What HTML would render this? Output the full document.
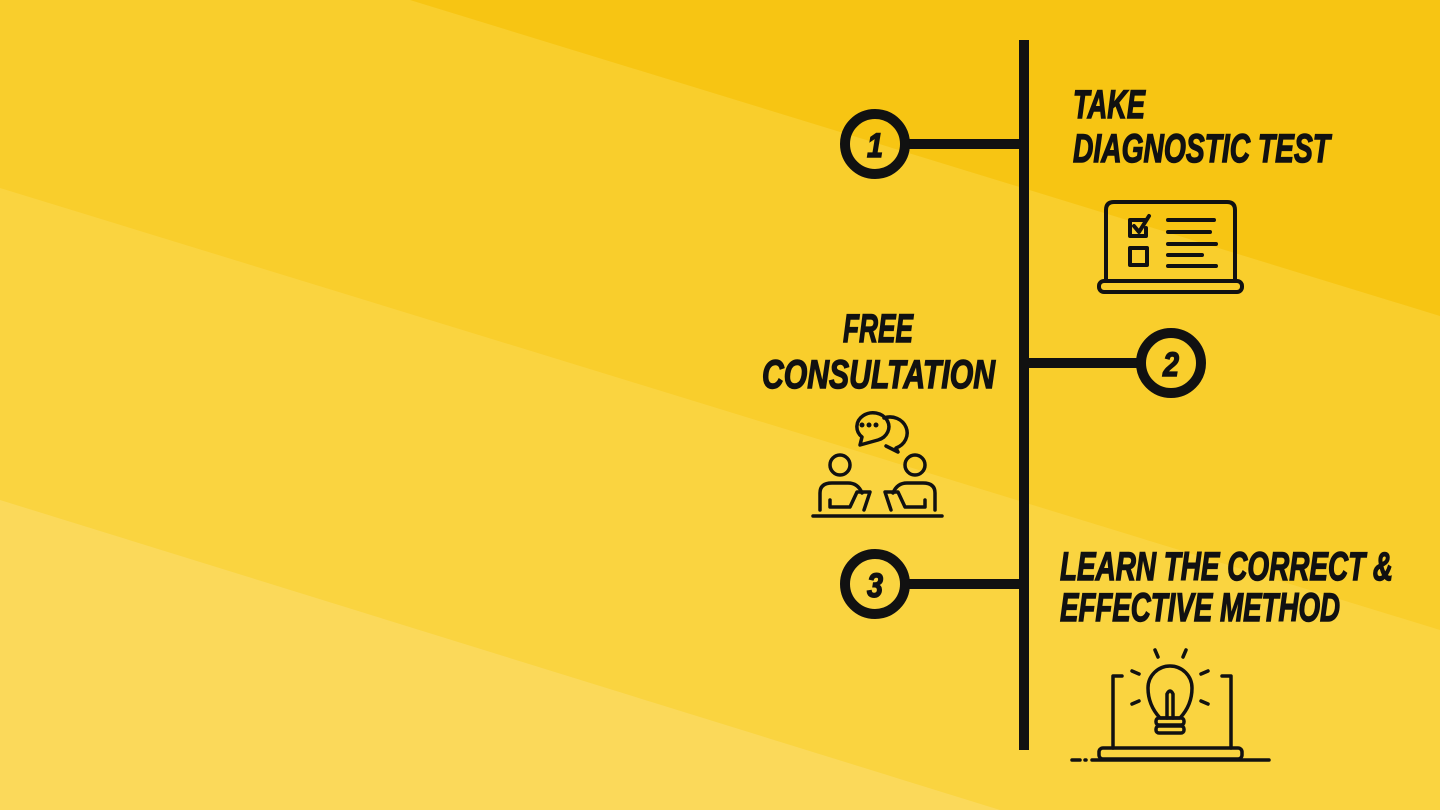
<!DOCTYPE html>
<html><head><meta charset="utf-8"><style>
html,body{margin:0;padding:0;width:1440px;height:810px;overflow:hidden}
svg{display:block}
text{font-family:"Liberation Sans",sans-serif;font-weight:bold;font-style:italic;fill:#111;stroke:#111;stroke-width:1.4}
</style></head><body>
<svg width="1440" height="810" viewBox="0 0 1440 810" xmlns="http://www.w3.org/2000/svg">
<rect width="1440" height="810" fill="#fbd95a"/>
<polygon points="0,0 1440,0 1440,810 1000,810 0,500" fill="#fad440"/>
<polygon points="0,0 1440,0 1440,630 0,188" fill="#f9ce2c"/>
<polygon points="410,0 1440,0 1440,316" fill="#f7c513"/>

<g stroke="#111" fill="none">
<line x1="1024" y1="40" x2="1024" y2="750" stroke-width="10"/>
<line x1="905" y1="144" x2="1024" y2="144" stroke-width="10"/>
<line x1="1024" y1="363" x2="1141" y2="363" stroke-width="10"/>
<line x1="905" y1="584" x2="1024" y2="584" stroke-width="10"/>
<circle cx="875" cy="144" r="30" stroke-width="10"/>
<circle cx="1171" cy="363" r="30" stroke-width="10"/>
<circle cx="875" cy="584" r="30" stroke-width="10"/>
</g>
<text x="875" y="157" font-size="34" text-anchor="middle" textLength="16" lengthAdjust="spacingAndGlyphs">1</text>
<text x="1171" y="376" font-size="34" text-anchor="middle" textLength="16" lengthAdjust="spacingAndGlyphs">2</text>
<text x="875" y="597" font-size="34" text-anchor="middle" textLength="16" lengthAdjust="spacingAndGlyphs">3</text>

<text x="1073" y="118" font-size="40" textLength="72" lengthAdjust="spacingAndGlyphs">TAKE</text>
<text x="1073" y="162" font-size="40" textLength="257" lengthAdjust="spacingAndGlyphs">DIAGNOSTIC TEST</text>
<text x="843" y="342" font-size="40" textLength="70" lengthAdjust="spacingAndGlyphs">FREE</text>
<text x="762" y="388" font-size="40" textLength="233" lengthAdjust="spacingAndGlyphs">CONSULTATION</text>
<text x="1060" y="580" font-size="40" textLength="333" lengthAdjust="spacingAndGlyphs">LEARN THE CORRECT &amp;</text>
<text x="1060" y="621" font-size="40" textLength="280" lengthAdjust="spacingAndGlyphs">EFFECTIVE METHOD</text>

<g stroke="#111" fill="none" stroke-width="4" stroke-linecap="round" stroke-linejoin="round">
<path d="M1106,281 V210 Q1106,202 1114,202 H1227 Q1235,202 1235,210 V281"/>
<rect x="1099" y="281" width="143" height="11" rx="5"/>
<path d="M1146,220 H1130 V236 H1146 V228"/>
<path d="M1134,226 L1139,232 L1149,216"/>
<rect x="1130" y="248" width="17" height="17"/>
<line x1="1168" y1="220" x2="1214" y2="220"/><line x1="1168" y1="232" x2="1210" y2="232"/>
<line x1="1168" y1="244" x2="1216" y2="244"/><line x1="1168" y1="255" x2="1202" y2="255"/>
<line x1="1168" y1="266" x2="1216" y2="266"/>
</g>

<g stroke="#111" fill="none" stroke-width="3.5" stroke-linecap="round" stroke-linejoin="round">
<path d="M860,445 L862,437 A16,14 0 1 1 878,440 Z"/>
<path d="M884,418 A15,14 0 1 1 896,448 L898,452 L886,446"/>
<circle cx="840" cy="465" r="10"/><circle cx="915" cy="465" r="10"/>
<path d="M820,510 V493 Q820,483 832,483 H848 Q858,483 862,493"/>
<path d="M935,510 V493 Q935,483 923,483 H907 Q897,483 893,493"/>
<path d="M830,500 V507 H850 L857,492 H870 L864,510"/>
<path d="M925,500 V507 H905 L898,492 H885 L891,510"/>
<line x1="813" y1="516" x2="942" y2="516"/>
</g>
<g fill="#111"><circle cx="862" cy="425" r="2.5"/><circle cx="869" cy="425" r="2.5"/><circle cx="876" cy="425" r="2.5"/></g>

<g stroke="#111" fill="none" stroke-width="3.5" stroke-linecap="round" stroke-linejoin="round">
<path d="M1122,676 H1113 V748"/><path d="M1222,676 H1231 V748"/>
<rect x="1099" y="748" width="143" height="11" rx="4"/>
<line x1="1072" y1="760" x2="1080" y2="760"/><line x1="1085" y1="760" x2="1086" y2="760"/><line x1="1092" y1="760" x2="1269" y2="760"/>
<path d="M1160,718 Q1148,705 1148,688 A22,22 0 1 1 1192,688 Q1192,705 1180,718 Z"/>
<path d="M1167,718 V694 Q1170,688 1173,694 V718"/>
<rect x="1156" y="718" width="28" height="7" rx="3"/><rect x="1156" y="726" width="28" height="7" rx="3"/>
<line x1="1155" y1="650" x2="1158" y2="657"/><line x1="1186" y1="650" x2="1183" y2="657"/>
<line x1="1132" y1="671" x2="1139" y2="674"/><line x1="1208" y1="671" x2="1201" y2="674"/>
<line x1="1132" y1="704" x2="1139" y2="701"/><line x1="1208" y1="704" x2="1201" y2="701"/>
</g>
</svg>
</body></html>
